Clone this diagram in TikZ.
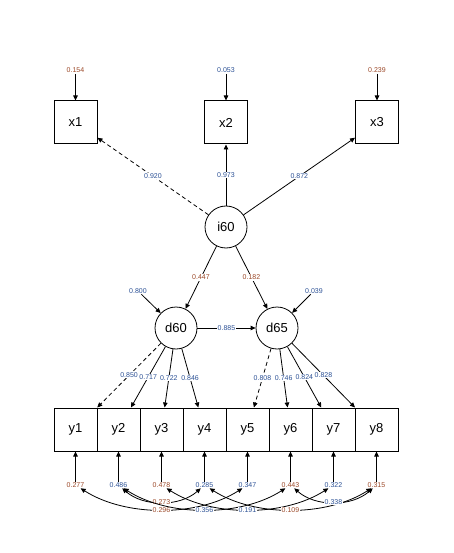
\documentclass[tikz,border=0pt]{standalone}
\usepackage{fontspec}
\setmainfont{Liberation Sans}
\usetikzlibrary{arrows.meta}
\definecolor{lb}{RGB}{45,82,150}
\definecolor{lr}{RGB}{155,72,40}
\begin{document}
\begin{tikzpicture}[x=1pt,y=-1pt,
 obs/.style={draw,line width=1pt,minimum size=43pt,inner sep=0pt,font=\fontsize{13}{15}\selectfont},
 lat/.style={draw,circle,line width=0.8pt,minimum size=42pt,inner sep=0pt,font=\fontsize{13}{15}\selectfont},
 val/.style={inner sep=0.6pt,font=\fontsize{7}{8}\selectfont},
 vb/.style={val,text=lb}, vr/.style={val,text=lr},
 lab/.style={val,fill=white,pos=0.5},
 arr/.style={line width=0.8pt,-{Triangle[length=5pt,width=4.5pt]}},
 darr/.style={arr,dash pattern=on 4pt off 3pt},
 cov/.style={line width=0.8pt,{Triangle[length=5pt,width=4.5pt]}-{Triangle[length=5pt,width=4.5pt]}}
]
\useasboundingbox (0,0) rectangle (453,553);

% top indicators
\node[obs] (x1) at (75.5,122.5) {x1};
\node[obs] (x2) at (226,122.5) {x2};
\node[obs] (x3) at (377,122.5) {x3};
\node[vr] (rx1) at (75.5,70.5) {0.154};
\node[vb] (rx2) at (226,70.5) {0.053};
\node[vr] (rx3) at (377,70.5) {0.239};
\draw[arr] (rx1) -- (x1);
\draw[arr] (rx2) -- (x2);
\draw[arr] (rx3) -- (x3);

% latents
\node[lat] (i60) at (226,227) {i60};
\node[lat] (d60) at (176,328) {d60};
\node[lat] (d65) at (277,328) {d65};
\node[vb] (rd60) at (138,291) {0.800};
\node[vb] (rd65) at (314,291) {0.039};
\draw[arr] (rd60) -- (d60);
\draw[arr] (rd65) -- (d65);

\draw[darr] (i60) -- node[lab,text=lb]{0.920} (x1);
\draw[arr] (i60) -- node[lab,text=lb]{0.973} (x2);
\draw[arr] (i60) -- node[lab,text=lb]{0.872} (x3);
\draw[arr] (i60) -- node[lab,text=lr]{0.447} (d60);
\draw[arr] (i60) -- node[lab,text=lr]{0.182} (d65);
\draw[arr] (d60) -- node[lab,text=lb]{0.885} (d65);

% bottom indicators
\foreach \i in {1,...,8} {
  \node[obs] (y\i) at ({54+43*(\i-0.5)},429.5) {y\i};
}
\draw[darr] (d60) -- node[lab,text=lb]{0.850} (y1);
\draw[arr] (d60) -- node[lab,text=lb]{0.717} (y2);
\draw[arr] (d60) -- node[lab,text=lb]{0.722} (y3);
\draw[arr] (d60) -- node[lab,text=lb]{0.846} (y4);
\draw[darr] (d65) -- node[lab,text=lb]{0.808} (y5);
\draw[arr] (d65) -- node[lab,text=lb]{0.746} (y6);
\draw[arr] (d65) -- node[lab,text=lb]{0.824} (y7);
\draw[arr] (d65) -- node[lab,text=lb]{0.828} (y8);

% residuals
\node[vr] (r1) at (75.5,485) {0.277};
\node[vb] (r2) at (118.5,485) {0.486};
\node[vr] (r3) at (161.5,485) {0.478};
\node[vb] (r4) at (204.5,485) {0.285};
\node[vb] (r5) at (247.5,485) {0.347};
\node[vr] (r6) at (290.5,485) {0.443};
\node[vb] (r7) at (333.5,485) {0.322};
\node[vr] (r8) at (376.5,485) {0.315};
\foreach \i in {1,...,8} {
  \draw[arr] (r\i) -- (y\i);
}

% residual covariances
\draw[cov] (r1) .. controls +(50,32) and +(-50,32) .. node[lab,text=lr]{0.296} (r5);
\draw[cov] (r2) .. controls +(25,22) and +(-25,22) .. node[lab,text=lr]{0.273} (r4);
\draw[cov] (r2) .. controls +(50,32) and +(-50,32) .. node[lab,text=lb]{0.356} (r6);
\draw[cov] (r3) .. controls +(50,32) and +(-50,32) .. node[lab,text=lb]{0.191} (r7);
\draw[cov] (r4) .. controls +(50,32) and +(-50,32) .. node[lab,text=lr]{0.109} (r8);
\draw[cov] (r6) .. controls +(25,22) and +(-25,22) .. node[lab,text=lb]{0.338} (r8);
\end{tikzpicture}
\end{document}
